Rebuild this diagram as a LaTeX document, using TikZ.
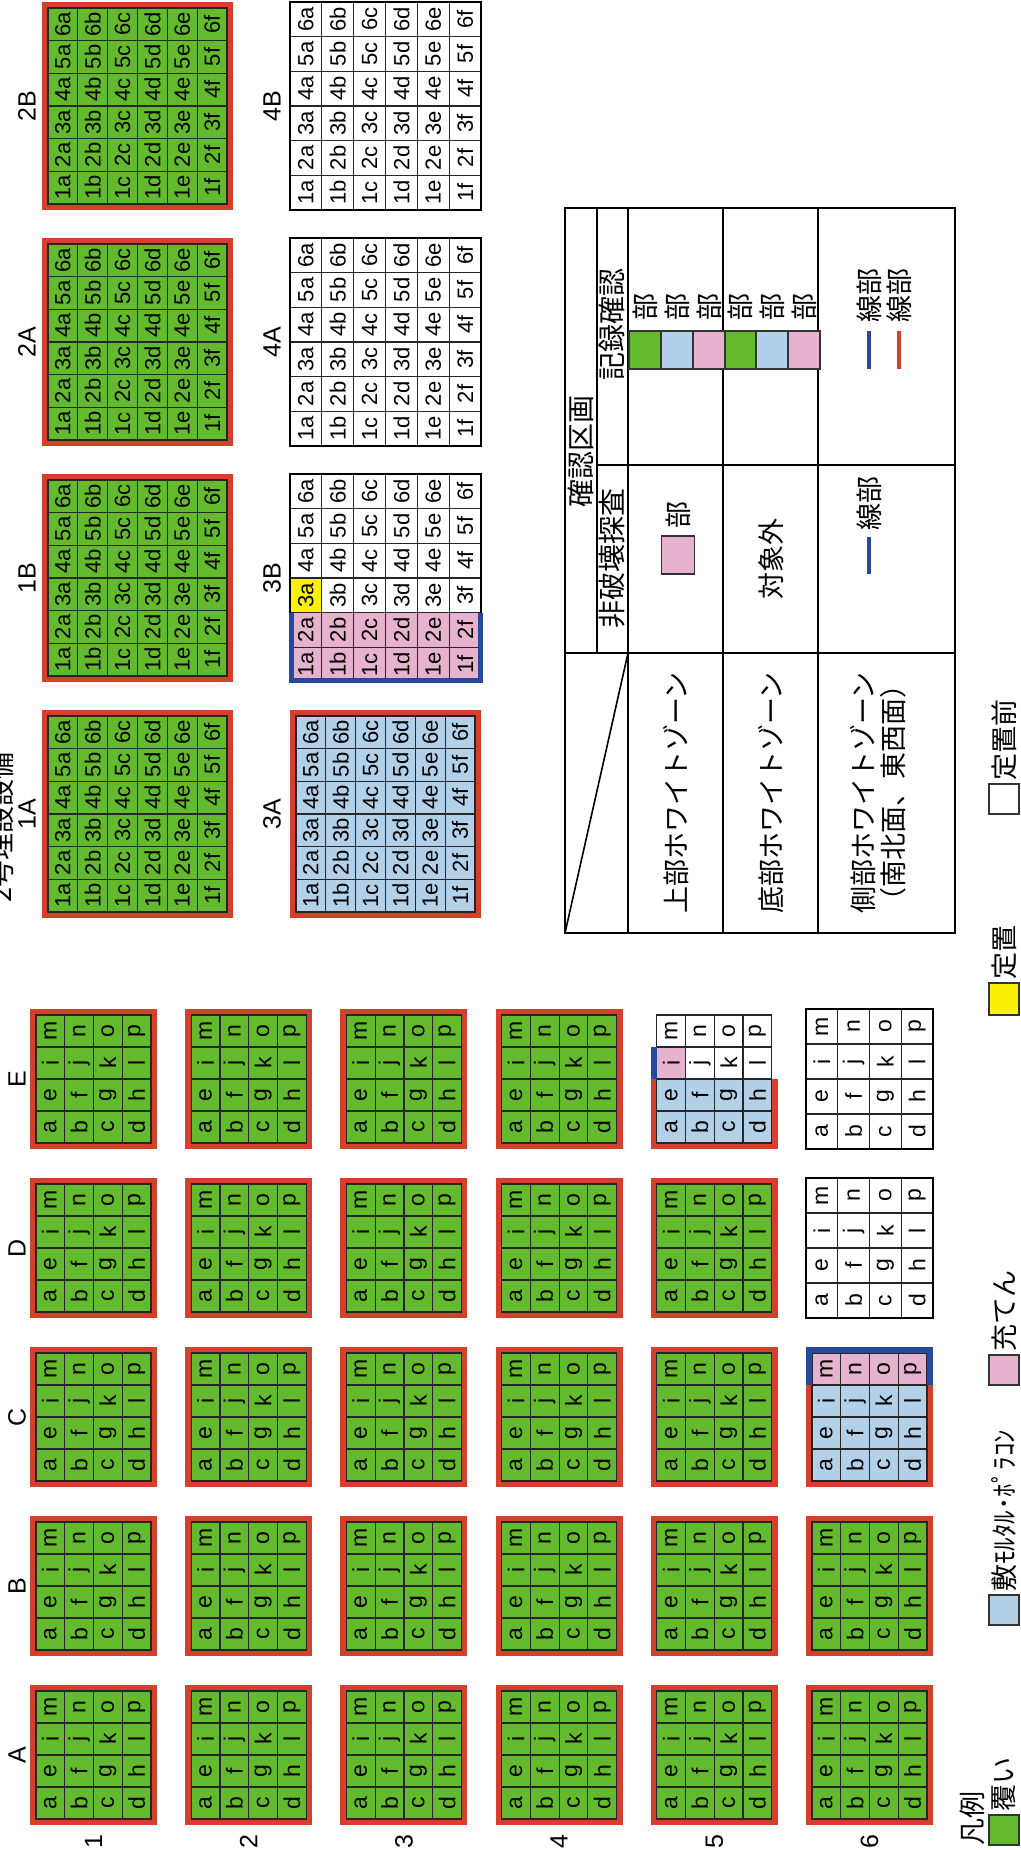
\documentclass[tikz,border=0pt]{standalone}
\usepackage{fontspec}
\setmainfont{Liberation Sans}
\newfontfamily\jp{Noto Sans CJK JP}
\usetikzlibrary{positioning}

\definecolor{cgrn}{RGB}{98,186,44}
\definecolor{cred}{RGB}{212,64,44}
\definecolor{cblu}{RGB}{178,208,232}
\definecolor{cpnk}{RGB}{230,178,206}
\definecolor{cyel}{RGB}{250,240,10}
\definecolor{cnavy}{RGB}{38,72,158}

\newcommand{\cellletter}[1]{\ifcase#1 a\or b\or c\or d\or e\or f\or g\or h\or i\or j\or k\or l\or m\or n\or o\or p\fi}

% 4x4 blocks (140 x 127)
\newcommand{\sdims}[1]{\def\sins{#1}\pgfmathsetmacro{\scw}{(140-2*#1)/4}\pgfmathsetmacro{\sch}{(127-2*#1)/4}}
\newcommand{\scellat}[5]{%
  \pgfmathtruncatemacro{\cellc}{#4/4}\pgfmathtruncatemacro{\cellr}{#4-4*\cellc}%
  \node[scell, fill=#5] (#1-#4) at ({#2+\sins+\scw*(\cellc+0.5)},{#3+\sins+\sch*(\cellr+0.5)}) {\cellletter{#4}};}
\newcommand{\sblock}[5]{\sdims{#5}%
  \ifnum#5>0 \fill[cred] (#2,#3) rectangle ++(140,127);\fi
  \foreach \k in {0,...,15}{\scellat{#1}{#2}{#3}{\k}{#4}}}

% 6x6 blocks (208 x 191)
\newcommand{\bdims}[1]{\def\bins{#1}\pgfmathsetmacro{\bcw}{(208-2*#1)/6}\pgfmathsetmacro{\bch}{(191-2*#1)/6}}
\newcommand{\bcellat}[5]{%
  \pgfmathtruncatemacro{\cellc}{#4/6}\pgfmathtruncatemacro{\cellr}{#4-6*\cellc}%
  \node[bcell, fill=#5] (#1-#4) at ({#2+\bins+\bcw*(\cellc+0.5)},{#3+\bins+\bch*(\cellr+0.5)}) {\the\numexpr\cellc+1\relax\cellletter{\cellr}};}
\newcommand{\bblock}[5]{\bdims{#5}%
  \ifnum#5>0 \fill[cred] (#2,#3) rectangle ++(208,191);\fi
  \foreach \k in {0,...,35}{\bcellat{#1}{#2}{#3}{\k}{#4}}}

\begin{document}
\begin{tikzpicture}[x=0.5pt, y=-0.5pt, rotate=90, transform shape,
    scell/.style={draw=black!85, line width=0.6pt, inner sep=0pt, minimum width=\scw*0.5pt, minimum height=\sch*0.5pt, font=\fontsize{11.5}{12}\selectfont},
    bcell/.style={draw=black!85, line width=0.6pt, inner sep=0pt, minimum width=\bcw*0.5pt, minimum height=\bch*0.5pt, font=\fontsize{11}{12}\selectfont},
    lbl/.style={inner sep=0pt, font=\fontsize{12.5}{13}\selectfont},
    jtxt/.style={inner sep=0pt, font=\jp\fontsize{13.5}{15}\selectfont},
    htxt/.style={inner sep=0pt, font=\jp\fontsize{14}{15}\selectfont},
    tline/.style={draw=black, line width=0.8pt},
    kbox/.style={draw=black!80, line width=0.6pt, inner sep=0pt, minimum width=19pt, minimum height=16pt},
    bmark/.style={line width=2pt, line cap=butt},
  ]
  \useasboundingbox (0,0) rectangle (1850,1021);

  % --- 4x4 blocks A-E, rows 1-6
  \foreach \cn/\cu in {A/25,B/194,C/363,D/532,E/701}{
    \node[lbl] (col\cn) at (\cu+70,17) {\cn};
    \foreach \rn in {1,...,4}{
      \pgfmathsetmacro{\rv}{30+155.2*(\rn-1)}
      \sblock{\cn\rn}{\cu}{\rv}{cgrn}{6}
    }
  }
  \foreach \rn in {1,...,6}
    \node[lbl] (row\rn) at (8,{93.5+155.2*(\rn-1)}) {\rn};
  \foreach \cn/\cu in {A/25,B/194,C/363,D/532}
    \sblock{\cn5}{\cu}{650.8}{cgrn}{6};
  \foreach \cn/\cu in {A/25,B/194}
    \sblock{\cn6}{\cu}{806}{cgrn}{6};
  \foreach \cn/\cu in {D/532,E/701}{
    \sblock{\cn6}{\cu}{806}{white}{0}
    \draw[line width=0.9pt] (\cu,806) rectangle ++(140,127);
  }
  % E5
  \sdims{6}
  \fill[cred] (701,650.8) rectangle ++(70,127);
  \foreach \k/\f in {0/cblu,1/cblu,2/cblu,3/cblu,4/cblu,5/cblu,6/cblu,7/cblu,8/cpnk,9/white,10/white,11/white,12/white,13/white,14/white,15/white}
    \scellat{E5}{701}{650.8}{\k}{\f};
  \draw[cnavy, line width=3pt] (771,653.8) -- ++(32,0);
  % C6
  \fill[cred] (363,806) rectangle ++(102,127);
  \foreach \k in {0,...,15}{
    \ifnum\k<12 \def\f{cblu}\else\def\f{cpnk}\fi
    \scellat{C6}{363}{806}{\k}{\f}
  }
  \draw[cnavy, line width=3pt] (465,809) -- (500,809) -- (500,930) -- (465,930);

  % --- 6x6 blocks
  \node[jtxt] (title) at (1022,1) {2号埋設設備};
  \foreach \bn/\bu in {1A/932,1B/1168,2A/1404,2B/1640}{
    \bblock{G\bn}{\bu}{42}{cgrn}{6}
    \node[lbl] (lbl\bn) at (\bu+104,27) {\bn};
  }
  \bblock{G3A}{932}{290}{cblu}{6}
  \bdims{0}
  \foreach \k in {0,...,35}{
    \ifnum\k<12 \def\f{cpnk}\else\ifnum\k=12 \def\f{cyel}\else\def\f{white}\fi\fi
    \bcellat{G3B}{1168}{290}{\k}{\f}
  }
  \draw[line width=0.9pt] (1168,290) rectangle ++(208,191);
  \draw[cnavy, line width=2.5pt] (1237.3,291) -- (1169,291) -- (1169,480) -- (1237.3,480);
  \foreach \bn/\bu in {4A/1404,4B/1640}{
    \bblock{G\bn}{\bu}{290}{white}{0}
    \draw[line width=0.9pt] (\bu,290) rectangle ++(208,191);
  }
  \foreach \bn/\bu in {3A/932,3B/1168,4A/1404,4B/1640}
    \node[lbl] (lbl\bn) at (\bu+104,272) {\bn};

  % --- check table
  \draw[tline] (917,565) rectangle (1642,955);
  \draw[tline] (1197,597) -- (1642,597);
  \draw[tline] (917,628) -- (1642,628);
  \draw[tline] (917,723) -- (1642,723);
  \draw[tline] (917,818) -- (1642,818);
  \draw[tline] (1197,565) -- (1197,955);
  \draw[tline] (1385,597) -- (1385,955);
  \draw[tline] (917,565) -- (1197,628);
  \node[htxt] (hdr) at (1398,581) {確認区画};
  \node[htxt] (hdrNd) at (1291,612) {非破壊探査};
  \node[htxt] (hdrRec) at (1525,612) {記録確認};
  \node[jtxt] (zTop) at (1057,676) {上部ホワイトゾーン};
  \node[jtxt] (zBot) at (1057,771) {底部ホワイトゾーン};
  \node[jtxt, align=center] (zSide) at (1057,878) {側部ホワイトゾーン\\（南北面、東西面）};
  \node[kbox, fill=cpnk, minimum height=16.5pt, line width=0.9pt] (ndTop) at (1295,678) {};
  \node[jtxt, right=3pt of ndTop] (ndTopT) {部};
  \node[jtxt] (ndBot) at (1291,771) {対象外};
  \draw[cnavy, bmark] (1276,869) coordinate (ndSideA) -- (1313,869) coordinate (ndSideB);
  \node[jtxt, right=3pt of ndSideB] (ndSideT) {線部};
  \foreach \c [count=\i from 0] in {cgrn,cblu,cpnk}{
    \node[kbox, fill=\c] (recTop\i) at (1500,{645+32*\i}) {};
    \node[jtxt, right=4.5pt of recTop\i] (recTopT\i) {部};
    \node[kbox, fill=\c] (recBot\i) at (1500,{740+32*\i}) {};
    \node[jtxt, right=4.5pt of recBot\i] (recBotT\i) {部};
  }
  \draw[cnavy, bmark] (1481,869) coordinate (recSideA) -- (1519,869) coordinate (recSideB);
  \node[jtxt, right=4pt of recSideB] (recSideT) {線部};
  \draw[cred, bmark] (1481,899) coordinate (recSideC) -- (1519,899) coordinate (recSideD);
  \node[jtxt, right=4pt of recSideD] (recSideU) {線部};

  % --- legend
  \node[jtxt, anchor=west] (lgTitle) at (4,972) {凡例};
  \node[kbox, fill=cgrn, minimum width=15pt, minimum height=15pt] (lgG) at (20,1004) {};
  \node[jtxt, right=1pt of lgG] (lgGt) {覆い};
  \node[kbox, fill=cblu, minimum width=15pt, minimum height=15pt] (lgB) at (240,1004) {};
  \node[jtxt, right=1pt of lgB] (lgBt) {敷ﾓﾙﾀﾙ･ﾎﾟﾗｺﾝ};
  \node[kbox, fill=cpnk, minimum width=15pt, minimum height=15pt] (lgP) at (480,1004) {};
  \node[jtxt, right=1pt of lgP] (lgPt) {充てん};
  \node[kbox, fill=cyel, minimum width=16pt, minimum height=15pt] (lgY) at (851,1004) {};
  \node[jtxt, right=1pt of lgY] (lgYt) {定置};
  \node[kbox, fill=white, minimum width=15pt, minimum height=15pt] (lgW) at (1051,1004) {};
  \node[jtxt, right=1pt of lgW] (lgWt) {定置前};
\end{tikzpicture}
\end{document}
